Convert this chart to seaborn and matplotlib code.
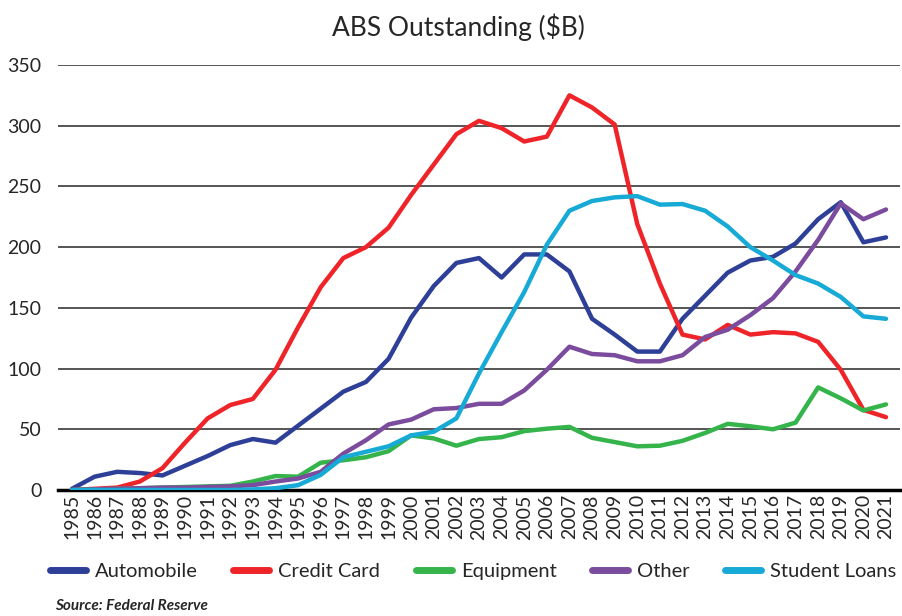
import matplotlib
matplotlib.use("Agg")
import matplotlib.pyplot as plt
import numpy as np
import pandas as pd
import seaborn as sns

# values ($B)
years = list(range(1985, 2022))
automobile = [1, 11, 15, 14, 12, 20, 28, 37, 42, 39, 53, 67, 81, 89, 108, 142, 168, 187, 191, 175,
              194, 194, 180, 141, 128, 114, 114, 141, 160, 179, 189, 192, 203, 223, 237, 204, 208]
credit_card = [0, 1, 2, 7, 18, 39, 59, 70, 75, 99, 134, 167, 191, 200, 216, 243, 268, 293, 304, 298,
               287, 291, 325, 315, 301, 219, 170, 128, 124, 136, 128, 130, 129, 122, 99, 66, 60]
equipment = [0, 0.5, 1, 1.5, 2, 2.5, 3, 3.5, 7, 11.5, 11, 22.5, 24.5, 27, 32, 45, 42.5, 36.5, 42, 43.5,
             48.5, 50.5, 52, 43, 39.5, 36, 36.5, 40.5, 47, 54.5, 52.5, 50, 55.5, 84.5, 75.5, 65.5, 70.5]
other = [0, 0.5, 1, 1.5, 2, 2, 2.5, 3, 4, 7, 9.5, 15, 30, 41, 54, 58, 66.5, 67.5, 71, 71,
         82, 99, 118, 112, 111, 106, 106, 111, 126, 132, 144, 158, 180, 206, 236, 223, 231]
student_loans = [0, 0, 0, 0, 0, 0, 0, 0, 0.5, 1.5, 4, 12.5, 27, 31.5, 36, 45, 48, 59, 96, 130,
                 163, 202, 230, 238, 241, 242, 235, 235.5, 230, 217, 200, 189, 177, 170, 159, 143, 141]

series_names = ["Automobile", "Credit Card", "Equipment", "Other", "Student Loans"]
colors = ["#2E3F98", "#EE2429", "#35B44B", "#7B4C9E", "#18AAD6"]
y_ticks = [0, 50, 100, 150, 200, 250, 300, 350]

df = pd.DataFrame({"Year": years, "Automobile": automobile, "Credit Card": credit_card,
                   "Equipment": equipment, "Other": other, "Student Loans": student_loans})
long_df = df.melt(id_vars="Year", var_name="Type", value_name="Value")

sns.set_style("white")
plt.rcParams["font.family"] = ["Lato", "DejaVu Sans"]

fig = plt.figure(figsize=(9.03, 6.16), dpi=100)
ax = fig.add_axes([0.0642, 0.2045, 0.9325, 0.69])

sns.lineplot(data=long_df, x="Year", y="Value", hue="Type", hue_order=series_names,
             palette=colors, linewidth=3.2, ax=ax, legend=False, zorder=3)

ax.set_xlim(1984.38, 2021.62)
ax.set_ylim(0, 350)
ax.set_yticks(y_ticks)
ax.set_yticklabels([str(v) for v in y_ticks], fontsize=14)
ax.set_xticks(years)
ax.set_xticklabels([str(y) for y in years], rotation=90, fontsize=14)
ax.tick_params(axis="x", length=0, pad=3)
ax.tick_params(axis="y", length=0, pad=12)
ax.set_xticks([1984.38, 2021.62], minor=True)
ax.tick_params(axis="x", which="minor", length=8, width=2, color="black", direction="out")
ax.set_xlabel("")
ax.set_ylabel("")

ax.grid(axis="y", color="#555555", linewidth=1.4, zorder=0)
ax.grid(axis="x", visible=False)
for side in ["left", "right", "top"]:
    ax.spines[side].set_visible(False)
ax.spines["bottom"].set_color("black")
ax.spines["bottom"].set_linewidth(2.5)

fig.suptitle("ABS Outstanding ($B)", x=0.508, y=0.978, fontsize=19)

handles = [plt.Line2D([], [], color=c, linewidth=5) for c in colors]
fig.legend(handles, series_names, loc="center", bbox_to_anchor=(0.524, 0.072), ncol=5,
           frameon=False, fontsize=14.5, handlelength=1.8, handletextpad=0.45, columnspacing=1.75)

fig.text(0.061, 0.017, "Source: Federal Reserve", fontsize=11, fontweight="bold",
         fontstyle="italic", ha="left", va="center")

fig.savefig("out.png", dpi=100)
